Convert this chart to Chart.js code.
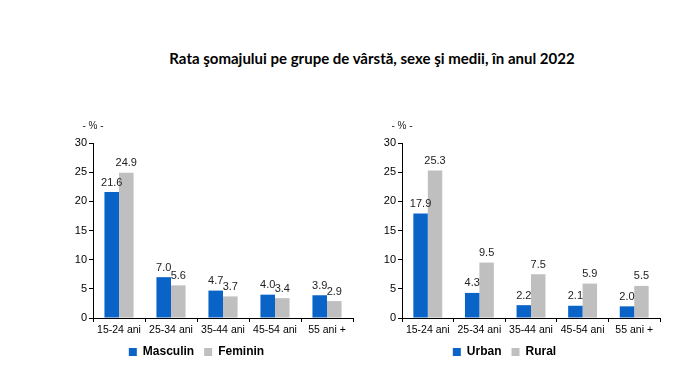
<!DOCTYPE html>
<html>
<head>
<meta charset="utf-8">
<script src="https://cdn.jsdelivr.net/npm/chart.js@4"></script>
<style>
  html, body { margin: 0; padding: 0; background: #fff; }
  body { width: 699px; height: 372px; position: relative; overflow: hidden; }
  #title {
    position: absolute; left: 0; width: 744px; top: 49px; text-align: center;
    font: bold 15px Lato, "Open Sans", sans-serif; color: #000;
  }
  .box { position: absolute; top: 110px; width: 330px; height: 262px; }
  #boxLeft { left: 40px; }
  #boxRight { left: 349px; }
</style>
</head>
<body>
<div id="title">Rata şomajului pe grupe de vârstă, sexe şi medii, în anul 2022</div>
<div class="box" id="boxLeft"><canvas id="chart-sex"></canvas></div>
<div class="box" id="boxRight"><canvas id="chart-medii"></canvas></div>

<script>
  // ── Data ────────────────────────────────────────────────────────────────
  const AGE_GROUPS = ["15-24 ani", "25-34 ani", "35-44 ani", "45-54 ani", "55 ani +"];
  const MASCULIN   = [21.6, 7.0, 4.7, 4.0, 3.9];
  const FEMININ    = [24.9, 5.6, 3.7, 3.4, 2.9];
  const URBAN      = [17.9, 4.3, 2.2, 2.1, 2.0];
  const RURAL      = [25.3, 9.5, 7.5, 5.9, 5.5];
  const Y_MAX  = 30;
  const Y_STEP = 5;

  // ── Colours ─────────────────────────────────────────────────────────────
  const BLUE = "#0A64C8";
  const GREY = "#BFBFBF";
  const INK  = "#000000";

  Chart.defaults.font.family = "'Liberation Sans', Arial, sans-serif";
  Chart.defaults.color = INK;

  // value labels above each bar + the "- % -" unit label
  const barLabels = {
    id: "barLabels",
    afterDatasetsDraw(chart) {
      const ctx = chart.ctx;
      ctx.save();
      ctx.font = "11px 'Liberation Sans', Arial, sans-serif";
      ctx.fillStyle = "#222";
      ctx.textAlign = "center";
      ctx.textBaseline = "bottom";
      chart.data.datasets.forEach((ds, i) => {
        chart.getDatasetMeta(i).data.forEach((bar, j) => {
          ctx.fillText(ds.data[j].toFixed(1), bar.x, bar.y - 4);
        });
      });
      ctx.font = "10px 'Liberation Sans', Arial, sans-serif";
      ctx.textBaseline = "middle";
      ctx.fillText("- % -", chart.chartArea.left, chart.chartArea.top - 17);
      ctx.restore();
    }
  };

  function renderChart(canvasId, labelA, dataA, labelB, dataB, padRight) {
    new Chart(document.getElementById(canvasId), {
      type: "bar",
      data: {
        labels: AGE_GROUPS,
        datasets: [
          { label: labelA, data: dataA, backgroundColor: BLUE },
          { label: labelB, data: dataB, backgroundColor: GREY },
        ],
      },
      options: {
        responsive: true,
        maintainAspectRatio: false,
        animation: false,
        datasets: { bar: { categoryPercentage: 0.56, barPercentage: 1.0 } },
        layout: { padding: { top: 33, right: padRight, left: 0, bottom: 4 } },
        plugins: {
          legend: {
            position: "bottom",
            labels: {
              color: INK,
              boxWidth: 8,
              boxHeight: 8,
              padding: 10,
              font: { size: 12, weight: "bold" },
            },
          },
          tooltip: { enabled: false },
        },
        scales: {
          x: {
            offset: true,
            grid: { offset: true, drawOnChartArea: false, drawTicks: true, tickLength: 4, color: INK },
            border: { color: INK, width: 1 },
            ticks: { color: INK, font: { size: 10.5 }, padding: 2, maxRotation: 0 },
            afterFit: (s) => { s.height = 18; },
          },
          y: {
            min: 0,
            max: Y_MAX,
            grid: { drawOnChartArea: false, drawTicks: true, tickLength: 4, color: INK },
            border: { color: INK, width: 1 },
            ticks: { stepSize: Y_STEP, color: INK, font: { size: 11 }, padding: 2 },
            afterFit: (s) => { s.width = 53; },
          },
        },
      },
      plugins: [barLabels],
    });
  }

  renderChart("chart-sex",   "Masculin", MASCULIN, "Feminin", FEMININ, 17);
  renderChart("chart-medii", "Urban",    URBAN,    "Rural",   RURAL,   19);
</script>
</body>
</html>
